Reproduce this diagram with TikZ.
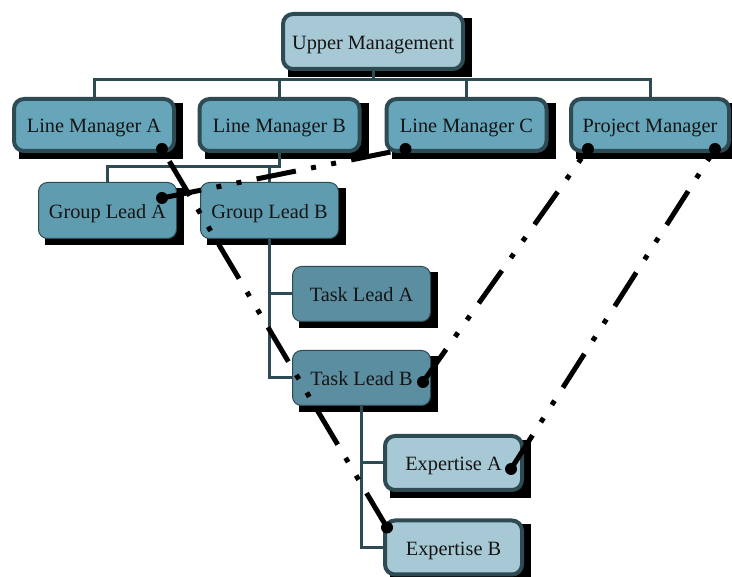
\documentclass[tikz,border=0pt]{standalone}
\usepackage{fontspec}
\setmainfont{Liberation Serif}
\pgfdeclarelayer{shadowl}
\pgfdeclarelayer{treel}
\pgfdeclarelayer{topl}
\pgfsetlayers{shadowl,treel,main,topl}
\definecolor{lightfill}{HTML}{A7C9D5}
\definecolor{lmfill}{HTML}{67A5BB}
\definecolor{glfill}{HTML}{609CB0}
\definecolor{tlfill}{HTML}{5A8EA0}
\definecolor{bord}{HTML}{2E4A52}
\definecolor{treec}{HTML}{2E4B53}
\definecolor{txt}{HTML}{151515}
\tikzset{
  box/.style={rectangle, text=txt, font=\fontsize{20.3}{24}\selectfont, inner sep=0pt, align=center, text height=16pt, text depth=0pt},
  thickbox/.style={box, draw=bord, line width=4pt, rounded corners=10pt, minimum width=160pt, minimum height=52pt},
  thinbox/.style={box, draw=bord, line width=1pt, rounded corners=9pt, minimum width=138pt, minimum height=56pt},
  treeline/.style={draw=treec, line width=3pt},
  relline/.style={draw=black, line width=5pt, dash pattern=on 40pt off 15.5pt on 5pt off 15.5pt on 5pt off 15.5pt},
  enddot/.style={fill=black},
  shadowbox/.style={fill=black}
}
\begin{document}
\begin{tikzpicture}[x=1pt,y=-1pt]
\useasboundingbox (0,0) rectangle (732,577);
% nodes
\node[thickbox, fill=lightfill, minimum width=180pt, minimum height=55pt] (UM) at (373,41.5) {Upper Management};
\node[thickbox, fill=lmfill] (LMA) at (94,125) {Line Manager A};
\node[thickbox, fill=lmfill] (LMB) at (279.5,125) {Line Manager B};
\node[thickbox, fill=lmfill] (LMC) at (466.5,125) {Line Manager C};
\node[thickbox, fill=lmfill, minimum width=158pt] (PM) at (650,125) {Project Manager};
\node[thinbox, fill=glfill] (GLA) at (107.5,210.5) {Group Lead A};
\node[thinbox, fill=glfill] (GLB) at (269.5,210.5) {Group Lead B};
\node[thinbox, fill=tlfill, minimum height=55pt] (TLA) at (361.5,294) {Task Lead A};
\node[thinbox, fill=tlfill, minimum height=55pt] (TLB) at (361.5,378) {Task Lead B};
\node[thickbox, fill=lightfill, minimum width=137pt, minimum height=54pt] (EA) at (453.5,463) {Expertise A};
\node[thickbox, fill=lightfill, minimum width=137pt, minimum height=54pt] (EB) at (453.5,547.5) {Expertise B};
% shadows
\begin{pgfonlayer}{shadowl}
\foreach \n in {UM,LMA,LMB,LMC,PM,GLA,GLB,TLA,TLB,EA,EB}{
  \fill[shadowbox] ([shift={(7,6)}]\n.north west) rectangle ([shift={(7,6)}]\n.south east);
}
\end{pgfonlayer}
% tree connectors
\begin{pgfonlayer}{treel}
\foreach \c in {LMA,LMB,LMC,PM}{
  \draw[treeline] (UM.south) -- ++(0,9) -| (\c.north);
}
\foreach \c in {GLA,GLB}{
  \draw[treeline] (LMB.south) -- ++(0,14) -| (\c.north);
}
\foreach \c in {TLA,TLB}{
  \draw[treeline] (GLB.south) |- (\c.west);
}
\foreach \c in {EA,EB}{
  \draw[treeline] (TLB.south) |- (\c.west);
}
\end{pgfonlayer}
% relation end points
\coordinate (pLMA) at ([shift={(-14,-4)}]LMA.south east);
\coordinate (pEB)  at ([shift={(4,9)}]EB.north west);
\coordinate (pGLA) at ([shift={(-15,-12.5)}]GLA.east);
\coordinate (pLMC) at ([shift={(21,-4)}]LMC.south west);
\coordinate (pPM1) at ([shift={(19,-4)}]PM.south west);
\coordinate (pPM2) at ([shift={(-16,-4)}]PM.south east);
\coordinate (pTLB) at ([shift={(-8,4)}]TLB.east);
\coordinate (pEA)  at ([shift={(-13,6)}]EA.east);
\begin{pgfonlayer}{topl}
\draw[relline] (pEB) -- (pLMA);
\draw[relline] (pGLA) -- (pLMC);
\draw[relline] (pTLB) -- (pPM1);
\draw[relline] (pEA) -- (pPM2);
\foreach \p in {pLMA,pEB,pGLA,pLMC,pPM1,pPM2,pTLB,pEA}{
  \fill[enddot] (\p) circle (6);
}
\end{pgfonlayer}
\end{tikzpicture}
\end{document}
